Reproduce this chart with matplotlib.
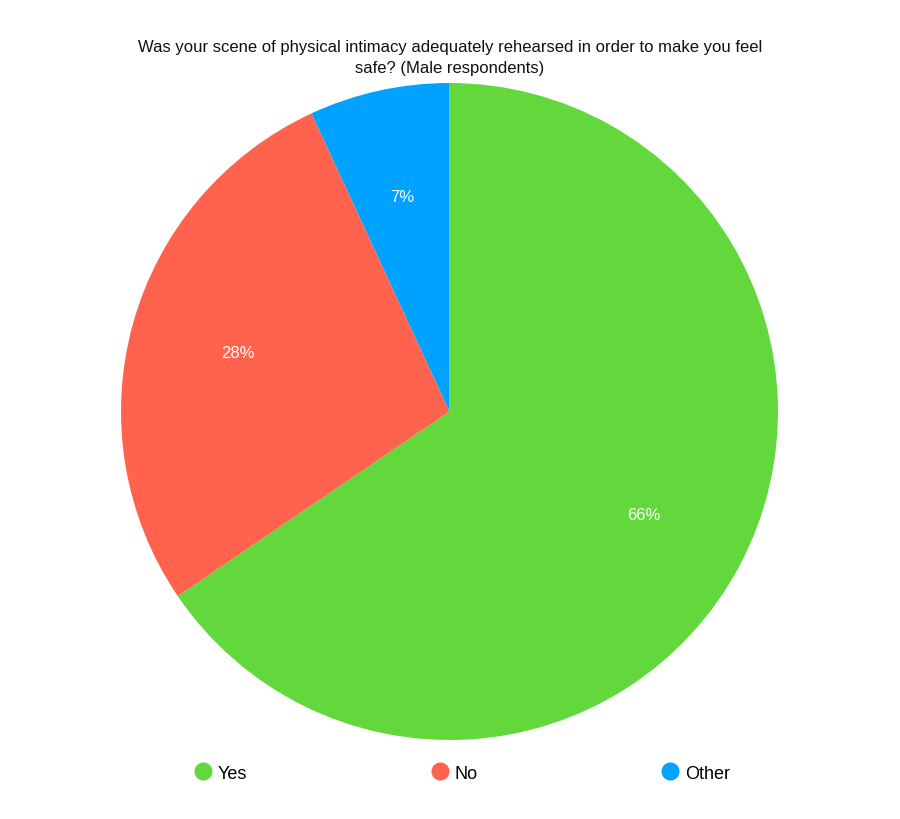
import numpy as np
import matplotlib.pyplot as plt
from matplotlib.lines import Line2D

plt.rcParams['font.family'] = ['Liberation Sans', 'DejaVu Sans']

# survey answers (share of male respondents, %)
answers = ['Yes', 'No', 'Other']
shares = [65.5, 27.6, 6.9]
share_labels = ['66%', '28%', '7%']
colors = ['#62D83C', '#FF634D', '#00A2FF']

title = 'Was your scene of physical intimacy adequately rehearsed in order to make you feel\nsafe? (Male respondents)'

fig = plt.figure(figsize=(9, 8.2), dpi=100)
fig.patch.set_facecolor('white')

# pie area: centre ~ (449.5, 412.5) px, radius ~ 328.5 px
ax = fig.add_axes([121 / 900, 79 / 820, 657 / 900, 657 / 820])
wedges, texts = ax.pie(shares, colors=colors, startangle=90, counterclock=False,
                       radius=1, wedgeprops=dict(linewidth=0))
ax.set_xlim(-1, 1)
ax.set_ylim(-1, 1)
ax.set_aspect('equal')
ax.axis('off')

# percentage labels inside the slices
for w, lab in zip(wedges, share_labels):
    ang = np.deg2rad((w.theta1 + w.theta2) / 2)
    ax.text(0.67 * np.cos(ang), 0.67 * np.sin(ang), lab, color='white',
            ha='center', va='center', fontsize=12)

fig.text(0.5, 1 - 58 / 820, title, ha='center', va='center', fontsize=12,
         linespacing=1.5, color='#111111')

handles = [Line2D([], [], marker='o', linestyle='none', markersize=12,
                  markerfacecolor=c, markeredgecolor=c) for c in colors]
fig.legend(handles, answers, loc='lower left', ncol=3, mode='expand',
           bbox_to_anchor=(187 / 900, 1 - 790 / 820, 550 / 900, 0.03),
           frameon=False, fontsize=13, handletextpad=0.3, handlelength=1.0,
           borderaxespad=0)

fig.savefig('out.png', dpi=100, facecolor='white')
